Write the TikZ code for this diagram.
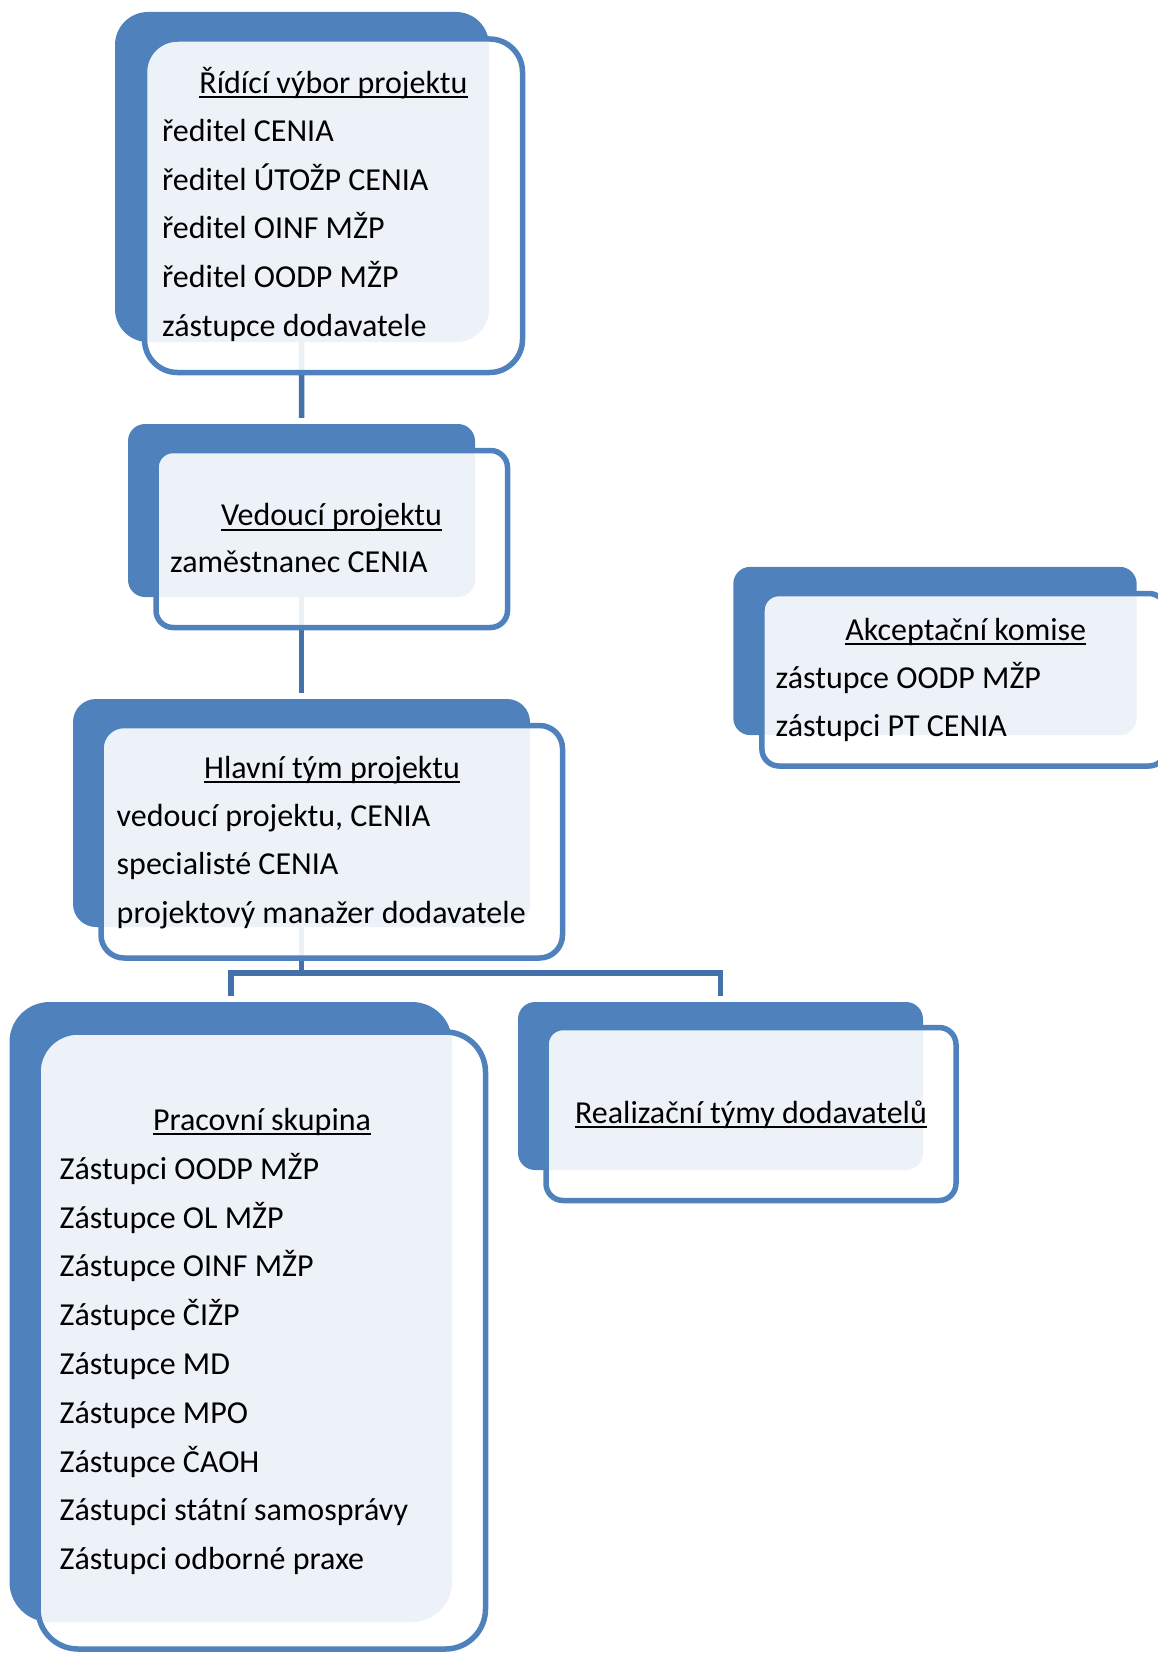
\documentclass[tikz,border=0pt]{standalone}
\usepackage{fontspec}
\setmainfont{Carlito}
\usepackage{tikz}
\usetikzlibrary{calc,positioning}
\definecolor{boxblue}{RGB}{79,129,189}
\definecolor{lineblue}{RGB}{68,114,168}
\pgfdeclarelayer{background}
\pgfsetlayers{background,main}
\newcommand{\podtrh}[1]{\setbox0\hbox{#1}\rlap{\rule[-4.8pt]{\wd0}{2pt}}\box0}
\tikzset{
    bluebox/.style={
        fill=boxblue,
        inner sep=0pt
    },
    % bily ramecek je z 90 % kryci, modry podklad jim prosvita
    whitebox/.style={
        draw=boxblue,
        line width=5.5pt,
        fill=white,
        fill opacity=0.9,
        inner sep=0pt
    },
    blueline/.style={
        draw=lineblue,
        line width=5.5pt,
        shorten >=6pt
    },
    headtext/.style={anchor=base, inner sep=0pt, font=\fontsize{32}{38}\selectfont},
    itemtext/.style={anchor=base west, inner sep=0pt, font=\fontsize{32}{38}\selectfont}
}

\begin{document}
\begin{tikzpicture}[x=1pt,y=-1pt]
    \useasboundingbox (0,0) rectangle (1158,1653);

    \node[bluebox, minimum width=374, minimum height=330, rounded corners=33] (ridici-zad) at (302,177) {};
    \node[whitebox, minimum width=378, minimum height=333.5, rounded corners=33] (ridici) at (333.5,205.75) {};
    \node[bluebox, minimum width=347, minimum height=173, rounded corners=17] (vedouci-zad) at (301.5,510.5) {};
    \node[whitebox, minimum width=351.5, minimum height=177, rounded corners=17] (vedouci) at (331.75,539) {};
    \node[bluebox, minimum width=457, minimum height=228, rounded corners=23] (hlavni-zad) at (301.5,813) {};
    \node[whitebox, minimum width=461.5, minimum height=232.5, rounded corners=23] (hlavni) at (331.75,841.75) {};
    \node[bluebox, minimum width=442.5, minimum height=620, rounded corners=40] (pracovni-zad) at (230.75,1312) {};
    \node[whitebox, minimum width=447.5, minimum height=617, rounded corners=40] (pracovni) at (261.75,1340.5) {};
    \node[bluebox, minimum width=405, minimum height=168, rounded corners=17] (realizacni-zad) at (720.5,1086) {};
    \node[whitebox, minimum width=410, minimum height=173, rounded corners=17] (realizacni) at (751,1114) {};
    \node[bluebox, minimum width=403.4, minimum height=168.3, rounded corners=17] (akceptacni-zad) at (935,651) {};
    \node[whitebox, minimum width=404, minimum height=172.5, rounded corners=17] (akceptacni) at (963.9,679.75) {};

    \coordinate (rozv) at (301.5,973);
    \begin{pgfonlayer}{background}
        \draw[blueline] (ridici-zad.center) -- (vedouci-zad.north);
        \draw[blueline] (vedouci-zad.center) -- (hlavni-zad.north);
        \draw[blueline, shorten >=0pt] (hlavni-zad.center) -- (rozv);
        \draw[blueline, shorten <=6pt] (pracovni-zad.north) |- (rozv) -| (realizacni-zad.north);
    \end{pgfonlayer}

    \node[headtext] (ridici-t) at (333.5,93.3) {\podtrh{Řídící výbor projektu}};
    \foreach \polozka [count=\i from 0] in {ředitel CENIA, ředitel ÚTOŽP CENIA, ředitel OINF MŽP, ředitel OODP MŽP, zástupce dodavatele}
        \node[itemtext] (ridici-\i) at (162,141.7+48.6*\i) {\polozka};

    \node[headtext] (vedouci-t) at (331.5,525.8) {\podtrh{Vedoucí projektu}};
    \node[itemtext] (vedouci-0) at (170,572.8) {zaměstnanec CENIA};

    \node[headtext] (hlavni-t) at (332,778) {\podtrh{Hlavní tým projektu}};
    \foreach \polozka [count=\i from 0] in {{vedoucí projektu, CENIA}, specialisté CENIA, projektový manažer dodavatele}
        \node[itemtext] (hlavni-\i) at (116.5,826+48.6*\i) {\polozka};

    \node[headtext] (pracovni-t) at (262,1130) {\podtrh{Pracovní skupina}};
    \foreach \polozka [count=\i from 0] in {Zástupci OODP MŽP, Zástupce OL MŽP, Zástupce OINF MŽP, Zástupce ČIŽP, Zástupce MD, Zástupce MPO, Zástupce ČAOH, Zástupci státní samosprávy, Zástupci odborné praxe}
        \node[itemtext] (pracovni-\i) at (59.5,1179.3+48.8*\i) {\polozka};

    \node[headtext] (realizacni-t) at (751,1123.3) {\podtrh{Realizační týmy dodavatelů}};

    \node[headtext] (akceptacni-t) at (965.7,640) {\podtrh{Akceptační komise}};
    \foreach \polozka [count=\i from 0] in {zástupce OODP MŽP, zástupci PT CENIA}
        \node[itemtext] (akceptacni-\i) at (775.5,688.3+48.4*\i) {\polozka};
\end{tikzpicture}
\end{document}
